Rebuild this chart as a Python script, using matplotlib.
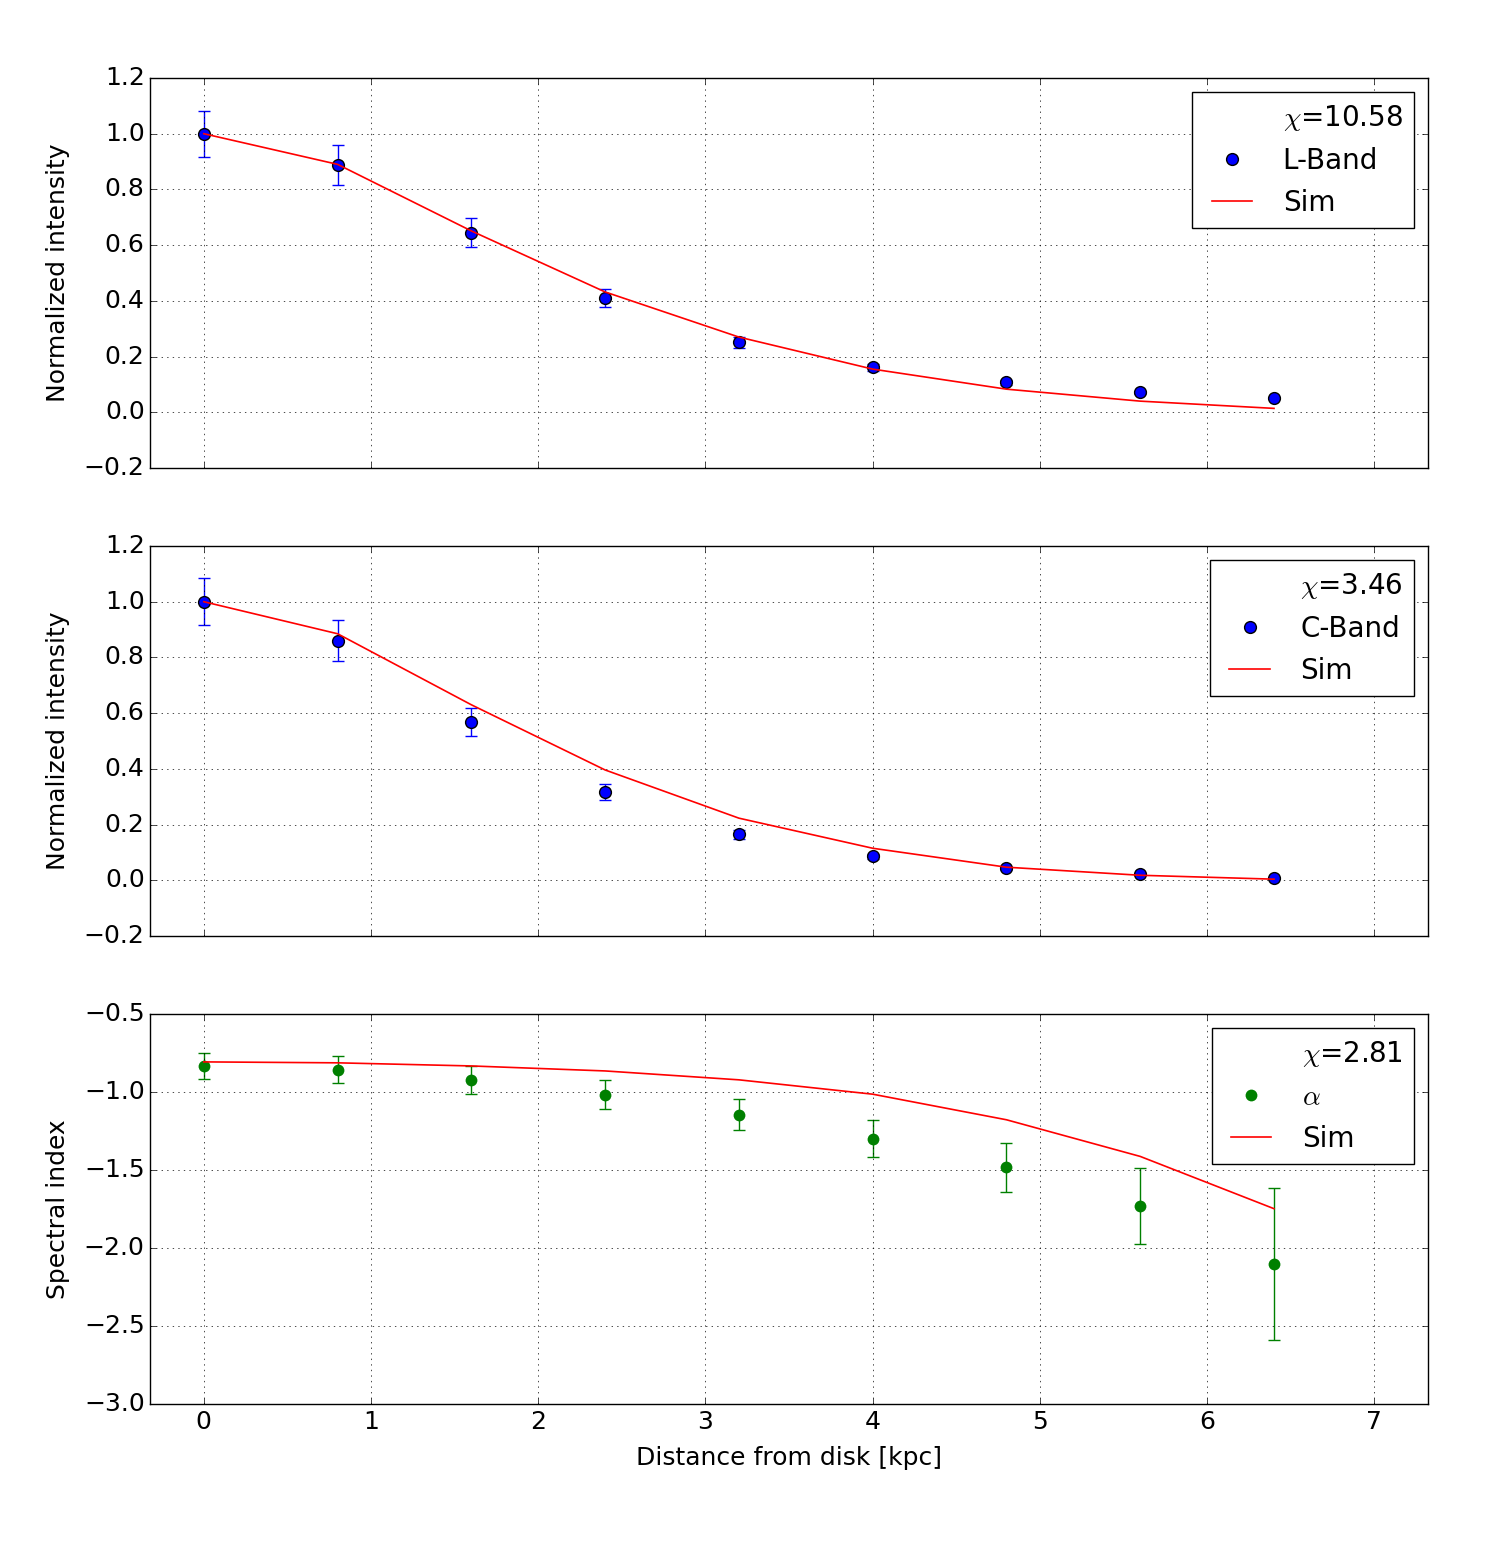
import matplotlib
matplotlib.use("Agg")
import matplotlib.pyplot as plt
from matplotlib.lines import Line2D
from matplotlib.legend_handler import HandlerLine2D

plt.style.use("classic")

# distance from disk [kpc]
dist = [0.0, 0.8, 1.6, 2.4, 3.2, 4.0, 4.8, 5.6, 6.4]

# L-Band
lband = [1.0, 0.889, 0.644, 0.41, 0.252, 0.162, 0.108, 0.072, 0.05]
lband_err = [0.082, 0.072, 0.052, 0.033, 0.02, 0.013, 0.009, 0.006, 0.004]
lband_sim = [1.0, 0.89, 0.651, 0.432, 0.27, 0.155, 0.083, 0.04, 0.014]
lband_chi = 10.58

# C-Band
cband = [1.0, 0.86, 0.568, 0.317, 0.165, 0.086, 0.043, 0.022, 0.007]
cband_err = [0.085, 0.074, 0.05, 0.029, 0.015, 0.009, 0.005, 0.003, 0.002]
cband_sim = [1.0, 0.885, 0.63, 0.396, 0.223, 0.115, 0.047, 0.018, 0.004]
cband_chi = 3.46

# spectral index
alpha = [-0.833, -0.858, -0.922, -1.018, -1.146, -1.30, -1.481, -1.73, -2.101]
alpha_err = [0.083, 0.086, 0.09, 0.093, 0.1, 0.118, 0.157, 0.243, 0.487]
alpha_sim = [-0.807, -0.813, -0.833, -0.865, -0.922, -1.014, -1.178, -1.413, -1.748]
alpha_chi = 2.81

fig, axes = plt.subplots(3, 1, figsize=(15.03, 15.6), dpi=100, sharex=True)
fig.subplots_adjust(left=0.1, right=0.95, top=0.95, bottom=0.1, hspace=0.2)

panels = [
    (axes[0], lband, lband_err, lband_sim, lband_chi, "L-Band", "b", "k", "Normalized intensity"),
    (axes[1], cband, cband_err, cband_sim, cband_chi, "C-Band", "b", "k", "Normalized intensity"),
    (axes[2], alpha, alpha_err, alpha_sim, alpha_chi, r"$\alpha$", "g", "g", "Spectral index"),
]

for ax, y, yerr, sim, chi, lab, col, edge, ylab in panels:
    ax.errorbar(dist, y, yerr=yerr, fmt="none", ecolor=col, elinewidth=1, capsize=4, capthick=1)
    ax.plot([], [], " ", label=r"$\chi$=%.2f" % chi)
    ax.plot(dist, y, "o", color=col, mec=edge, mew=1 if edge == "k" else 0, ms=8.5, label=lab, zorder=3)
    ax.plot(dist, sim, "-", color="r", lw=1.2, label="Sim", zorder=4)
    ax.set_ylabel(ylab, fontsize=18, labelpad=10)
    ax.grid(True)
    ax.tick_params(labelsize=18)
    ax.legend(loc="upper right", numpoints=1, fontsize=20, handlelength=1.75,
              handletextpad=1.1, borderpad=0.4,
              handler_map={Line2D: HandlerLine2D(xpad=0.3)})

axes[0].set_ylim(-0.2, 1.2)
axes[1].set_ylim(-0.2, 1.2)
axes[2].set_ylim(-3.0, -0.5)
axes[2].set_xlim(-0.32, 7.32)
axes[2].set_xlabel("Distance from disk [kpc]", fontsize=18, labelpad=9)

fig.savefig("out.png", dpi=100)
